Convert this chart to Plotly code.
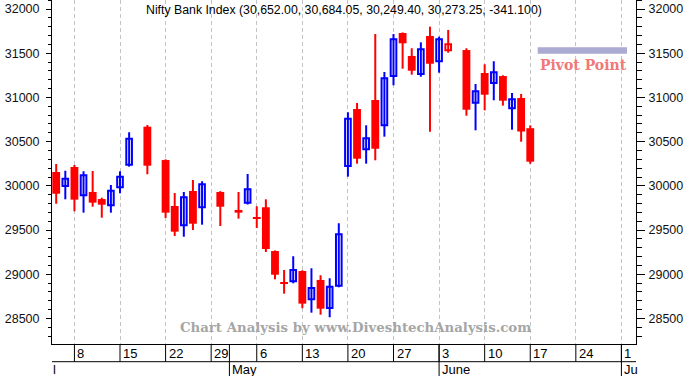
import numpy as np
import plotly.graph_objects as go

# ---------------- data ----------------
dates = [
    "2019-04-04", "2019-04-05", "2019-04-08", "2019-04-09", "2019-04-10", "2019-04-11", "2019-04-12",
    "2019-04-15", "2019-04-16", "2019-04-18",
    "2019-04-22", "2019-04-23", "2019-04-24", "2019-04-25", "2019-04-26",
    "2019-04-30", "2019-05-02", "2019-05-03",
    "2019-05-06", "2019-05-07", "2019-05-08", "2019-05-09", "2019-05-10",
    "2019-05-13", "2019-05-14", "2019-05-15", "2019-05-16", "2019-05-17",
    "2019-05-20", "2019-05-21", "2019-05-22", "2019-05-23", "2019-05-24",
    "2019-05-27", "2019-05-28", "2019-05-29", "2019-05-30", "2019-05-31",
    "2019-06-03", "2019-06-04", "2019-06-06", "2019-06-07",
    "2019-06-10", "2019-06-11", "2019-06-12", "2019-06-13", "2019-06-14",
    "2019-06-17",
]
open_ = [30157, 29998, 30213, 29893, 29931, 29851, 29780,
         29984, 30239, 30669,
         30292, 29772, 29554, 29942, 29758,
         29931, 29727, 29810,
         29648, 29758, 29263, 28913, 28921,
         29037, 28717, 28936, 28619, 28871,
         30225, 30869, 30413, 30971, 30685,
         31242, 31729, 31469, 31265, 31695,
         31409, 31533, 31536, 30940,
         31276, 31163, 31242, 30877, 30994,
         30652.00]
high = [30247, 30171, 30236, 30165, 30168, 29866, 30010,
        30165, 30606, 30688,
        30300, 29919, 29931, 30066, 30052,
        29940, 29931, 30134,
        29769, 29848, 29270, 29049, 29204,
        29045, 29068, 28989, 28955, 29577,
        30832, 30937, 30685, 31717, 31288,
        31717, 31735, 31556, 31623, 31800,
        31687, 31763, 31556, 31152,
        31375, 31409, 31250, 31050, 31039,
        30684.05]
low = [29798, 29848, 29712, 29697, 29764, 29640, 29697,
       29916, 30217, 30131,
       29637, 29433, 29425, 29501, 29561,
       29546, 29629, 29789,
       29524, 29252, 28943, 28781, 28898,
       28616, 28566, 28543, 28514, 28853,
       30104, 30251, 30251, 30289, 30556,
       31137, 31325, 31257, 31234, 30612,
       31280, 31506, 30793, 30628,
       30854, 30968, 30907, 30635, 30499,
       30249.40]
close = [29911, 30081, 29844, 30119, 29810, 29787, 29945,
         30104, 30533, 30228,
         29697, 29482, 29871, 29572, 30018,
         29764, 29697, 29961,
         29625, 29286, 28995, 28890, 29049,
         28668, 28845, 28611, 28860, 29452,
         30760, 30307, 30538, 30420, 31216,
         31657, 31612, 31302, 31544, 31381,
         31657, 31601, 30861, 31069,
         31031, 31284, 30963, 30979, 30614.35,
         30273.25]

week_ticks = ["2019-04-08", "2019-04-15", "2019-04-22", "2019-04-29", "2019-05-06",
              "2019-05-13", "2019-05-20", "2019-05-27", "2019-06-03", "2019-06-10",
              "2019-06-17", "2019-06-24", "2019-07-01"]
week_labels = ["8", "15", "22", "29", "6", "13", "20", "27", "3", "10", "17", "24", "1"]
month_starts = ["2019-05-01", "2019-06-03", "2019-07-01"]
month_labels = ["May", "June", "Ju"]
first_month_label = "l"
title_text = "Nifty Bank Index (30,652.00, 30,684.05, 30,249.40, 30,273.25, -341.100)"
legend_label = "Pivot Point"
watermark = "Chart Analysis by www.DiveshtechAnalysis.com"
y_ticks = [28500, 29000, 29500, 30000, 30500, 31000, 31500, 32000]

# ---------------- helpers ----------------
BLUE = "#0000FF"
RED = "#FF0000"
base_day = dates[0]


def pos(d):
    return int(np.busday_count(base_day, d))


xs = [pos(d) for d in dates]

groups = {
    "blue_hollow": dict(x=[], b=[], h=[]),
    "blue_filled": dict(x=[], b=[], h=[]),
    "red_filled": dict(x=[], b=[], h=[]),
    "red_hollow": dict(x=[], b=[], h=[]),
}
wicks = {BLUE: dict(x=[], y=[]), RED: dict(x=[], y=[])}
for i, x in enumerate(xs):
    o, h, l, c = open_[i], high[i], low[i], close[i]
    prev = close[i - 1] if i > 0 else o
    col = "blue" if c > prev else "red"
    kind = "hollow" if c >= o else "filled"
    g = groups[col + "_" + kind]
    g["x"].append(x)
    g["b"].append(min(o, c))
    g["h"].append(abs(c - o))
    w = wicks[BLUE if col == "blue" else RED]
    w["x"] += [x, x, None]
    w["y"] += [l, h, None]

fig = go.Figure()
for colr, w in wicks.items():
    fig.add_trace(go.Scatter(x=w["x"], y=w["y"], mode="lines",
                             line=dict(color=colr, width=2), hoverinfo="skip",
                             showlegend=False))

style = {
    "blue_hollow": dict(fill="white", line=BLUE, lw=2, width=0.62),
    "blue_filled": dict(fill=BLUE, line=BLUE, lw=0, width=0.86),
    "red_filled": dict(fill=RED, line=RED, lw=0, width=0.86),
    "red_hollow": dict(fill="white", line=RED, lw=2, width=0.62),
}
for k, g in groups.items():
    if not g["x"]:
        continue
    s = style[k]
    fig.add_trace(go.Bar(x=g["x"], y=g["h"], base=g["b"], width=s["width"],
                         marker=dict(color=s["fill"], line=dict(color=s["line"], width=s["lw"])),
                         hoverinfo="skip", showlegend=False))

# dummy trace to carry the right-hand price axis
fig.add_trace(go.Scatter(x=[xs[0]], y=[close[0]], yaxis="y2", mode="markers",
                         marker=dict(opacity=0), hoverinfo="skip", showlegend=False))

x_range = [-0.46, pos("2019-07-01") + 1.6]
y_range = [28211.6, 32101.8]

tick_font = dict(family="Liberation Sans, Arial, sans-serif", size=12.5, color="#111111")
fig.update_layout(
    width=686, height=376,
    margin=dict(l=52, r=50, t=0, b=32),
    paper_bgcolor="white", plot_bgcolor="white",
    barmode="overlay", showlegend=False,
    xaxis=dict(range=x_range, tickvals=[pos(d) for d in week_ticks], showticklabels=False,
               ticks="", showgrid=True, gridcolor="#c4c4c4", griddash="4px,3px", gridwidth=1,
               zeroline=False, showline=True, linecolor="black", linewidth=1, fixedrange=True),
    yaxis=dict(range=y_range, tickvals=y_ticks, tickformat="d", ticks="outside", ticklen=5,
               tickcolor="black", showgrid=False, zeroline=False, showline=True,
               linecolor="black", linewidth=1, tickfont=tick_font, ticklabelstandoff=4,
               minor=dict(dtick=100, ticks="outside", ticklen=3, tickcolor="black")),
    yaxis2=dict(range=y_range, overlaying="y", side="right", anchor="x",
                tickvals=y_ticks, tickformat="d", ticks="outside", ticklen=8,
                tickcolor="black", showgrid=False, zeroline=False, showline=True,
                linecolor="black", linewidth=1, tickfont=tick_font, ticklabelstandoff=1,
                minor=dict(dtick=100, ticks="outside", ticklen=5, tickcolor="black")),
)

# title inside the plot
fig.add_annotation(text=title_text, xref="paper", yref="paper", x=0.5, y=1,
                   yshift=-10, xanchor="center", yanchor="middle", showarrow=False,
                   font=dict(family="Liberation Sans, Arial, sans-serif", size=12.3, color="black"))

# watermark
fig.add_annotation(text=watermark, xref="paper", yref="paper", x=0.5205, y=0.0494,
                   xanchor="center", yanchor="middle", showarrow=False,
                   font=dict(family="DejaVu Serif, serif", size=13.3, color="#a6a6a6", weight="bold"))

# legend-like pivot point marker
fig.add_shape(type="rect", xref="paper", yref="paper", x0=0.8317, x1=0.9846,
              y0=0.8439, y1=0.8625, fillcolor="#aaaad2", line=dict(width=0), layer="above")
fig.add_annotation(text=legend_label, xref="paper", yref="paper", x=0.91, y=0.8125,
                   xanchor="center", yanchor="middle", showarrow=False,
                   font=dict(family="DejaVu Serif, serif", size=14, color="#f07878", weight="bold"))

# date table below the plot
lab_font = dict(family="Liberation Sans Narrow, Arial Narrow, Liberation Sans, sans-serif",
                size=13, color="black")
DAY_ROW = -17.7
for d, lab in zip(week_ticks, week_labels):
    fig.add_shape(type="line", xref="x", yref="paper", ysizemode="pixel", yanchor=0,
                  x0=pos(d), x1=pos(d), y0=0, y1=DAY_ROW, line=dict(color="black", width=1))
    fig.add_annotation(text=lab, xref="x", yref="paper", x=pos(d), y=0, xanchor="left",
                       yanchor="middle", xshift=1, yshift=-9, showarrow=False, font=lab_font)
for d, lab in zip(month_starts, month_labels):
    fig.add_shape(type="line", xref="x", yref="paper", ysizemode="pixel", yanchor=0,
                  x0=pos(d), x1=pos(d), y0=0, y1=-32, line=dict(color="black", width=1))
    fig.add_annotation(text=lab, xref="x", yref="paper", x=pos(d), y=0, xanchor="left",
                       yanchor="middle", xshift=1, yshift=-25, showarrow=False, font=lab_font)
fig.add_annotation(text=first_month_label, xref="paper", yref="paper", x=0, y=0,
                   xanchor="left", yanchor="middle", xshift=-1, yshift=-25, showarrow=False,
                   font=lab_font)
fig.add_shape(type="line", xref="paper", yref="paper", ysizemode="pixel", yanchor=0,
              x0=0, x1=1, y0=DAY_ROW, y1=DAY_ROW, line=dict(color="black", width=1))

fig.write_html("out.html", config={"displayModeBar": False},
               post_script="document.body.style.margin='0';")
